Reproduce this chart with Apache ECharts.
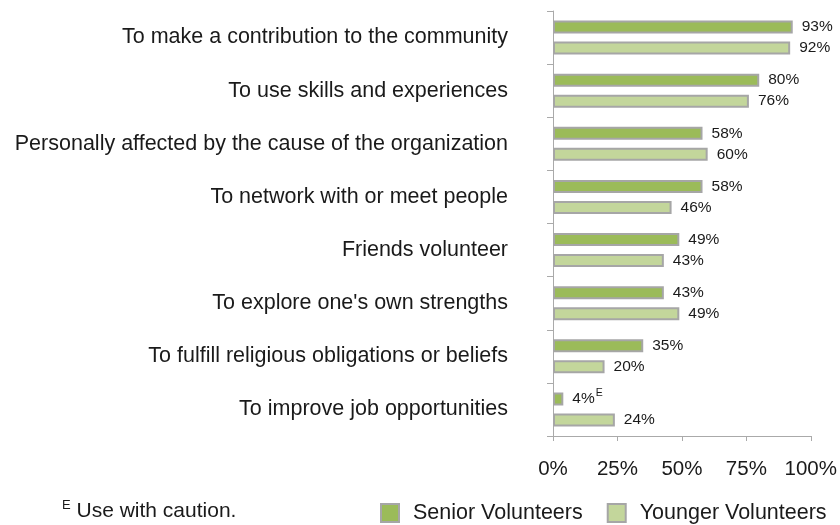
<!DOCTYPE html>
<html>
<head>
<meta charset="utf-8">
<script src="https://cdn.jsdelivr.net/npm/echarts@6/dist/echarts.min.js"></script>
<style>html,body{margin:0;padding:0;background:#fff}#chart{width:840px;height:525px}</style>
</head>
<body>
<div id="chart"></div>
<script>
// Reasons for volunteering, share of volunteers (%)
const categories = [
  "To make a contribution to the community",
  "To use skills and experiences",
  "Personally affected by the cause of the organization",
  "To network with or meet people",
  "Friends volunteer",
  "To explore one's own strengths",
  "To fulfill religious obligations or beliefs",
  "To improve job opportunities"
];
const seniorValues = [93, 80, 58, 58, 49, 43, 35, 4];
const youngerValues = [92, 76, 60, 46, 43, 49, 20, 24];
// estimates flagged "use with caution"
const seniorCaution = [false, false, false, false, false, false, false, true];
const xTicks = [0, 25, 50, 75, 100];

const FONT = "'Liberation Sans', Arial, sans-serif";
const TXT = '#1a1a1a';

const chart = echarts.init(document.getElementById('chart'), null, {renderer: 'canvas'});

function pctLabel(flags) {
  return function (p) {
    return flags && flags[p.dataIndex] ? p.value + '%{e|E}' : p.value + '%';
  };
}

chart.setOption({
  animation: false,
  textStyle: {fontFamily: FONT},
  grid: {left: 553, right: 26, top: 11, bottom: 89, containLabel: false},
  xAxis: {
    type: 'value', min: xTicks[0], max: xTicks[xTicks.length - 1], interval: 25,
    axisLine: {show: true, lineStyle: {color: '#aaaaaa', width: 1}},
    axisTick: {show: true, length: 5, lineStyle: {color: '#aaaaaa'}},
    splitLine: {show: false},
    axisLabel: {margin: 23, fontSize: 20.5, color: TXT, fontFamily: FONT, formatter: v => v + '%'}
  },
  yAxis: {
    type: 'category', data: categories, inverse: true,
    axisLine: {show: true, lineStyle: {color: '#aaaaaa', width: 1}},
    axisTick: {show: true, length: 6, lineStyle: {color: '#aaaaaa'}},
    axisLabel: {margin: 45, fontSize: 21.5, color: TXT, fontFamily: FONT}
  },
  legend: {
    top: 497, left: 375, itemWidth: 18, itemHeight: 18, itemGap: 24, icon: 'rect',
    textStyle: {fontSize: 21.5, color: TXT, fontFamily: FONT, padding: [0, 0, 0, 9]},
    data: ['Senior Volunteers', 'Younger Volunteers']
  },
  series: [
    {
      name: 'Senior Volunteers', type: 'bar', data: seniorValues,
      barWidth: 13, barGap: '62%',
      itemStyle: {color: '#9bbb59', borderColor: '#a6a6a6', borderWidth: 2},
      label: {
        show: true, position: 'right', distance: 9, fontSize: 15.5, color: TXT, fontFamily: FONT,
        formatter: pctLabel(seniorCaution),
        rich: {e: {fontSize: 10.5, verticalAlign: 'top', padding: [0, 0, 11, 1], color: TXT}}
      }
    },
    {
      name: 'Younger Volunteers', type: 'bar', data: youngerValues,
      barWidth: 13,
      itemStyle: {color: '#c3d69b', borderColor: '#a6a6a6', borderWidth: 2},
      label: {
        show: true, position: 'right', distance: 9, fontSize: 15.5, color: TXT, fontFamily: FONT,
        formatter: pctLabel(null)
      }
    }
  ],
  graphic: [{
    type: 'text', left: 62, top: 499,
    style: {
      text: '{e|E} Use with caution.',
      fontFamily: FONT, fontSize: 21, fill: TXT,
      rich: {e: {fontSize: 13, padding: [0, 0, 11, 0], fill: TXT}}
    }
  }]
});
</script>
</body>
</html>
